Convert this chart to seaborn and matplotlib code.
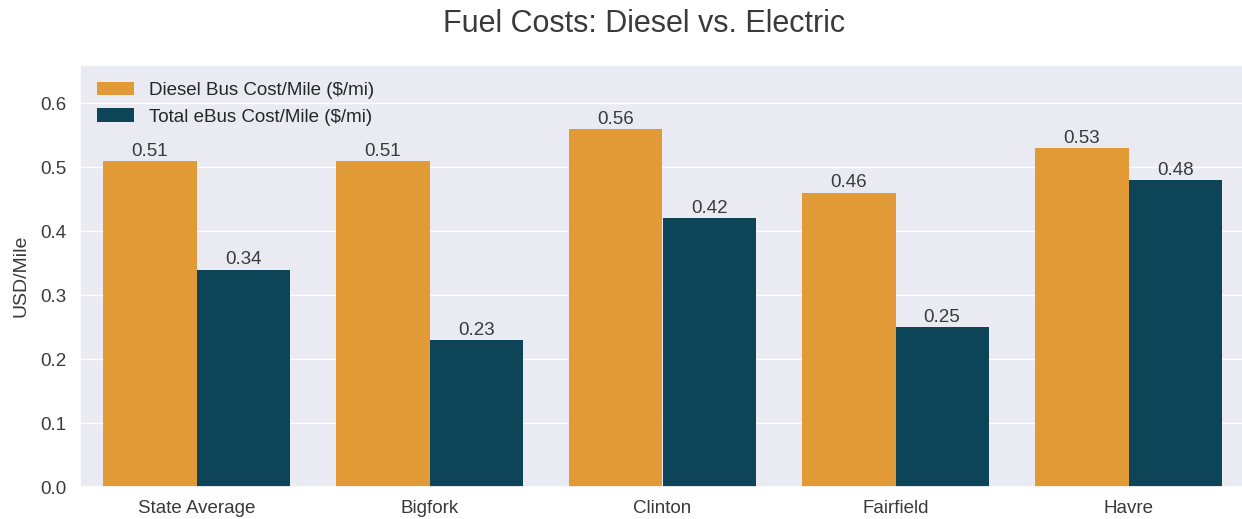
import matplotlib
matplotlib.use("Agg")
import matplotlib.pyplot as plt
import seaborn as sns
import pandas as pd

sites = ["State Average", "Bigfork", "Clinton", "Fairfield", "Havre"]
diesel_cost = [0.51, 0.51, 0.56, 0.46, 0.53]
ebus_cost = [0.34, 0.23, 0.42, 0.25, 0.48]
series_names = ["Diesel Bus Cost/Mile ($/mi)", "Total eBus Cost/Mile ($/mi)"]

sns.set_theme(style="darkgrid")
plt.rcParams["font.family"] = ["Liberation Sans", "DejaVu Sans"]

df = pd.DataFrame({
    "Site": sites * 2,
    "Cost": diesel_cost + ebus_cost,
    "Series": [series_names[0]] * len(sites) + [series_names[1]] * len(sites),
})

W, H = 1242, 519
fig = plt.figure(figsize=(W / 100, H / 100), dpi=100)
ax = fig.add_axes([80 / W, 32 / H, 1165 / W, 422 / H])

sns.barplot(data=df, x="Site", y="Cost", hue="Series",
            palette=["#E29A36", "#0D4457"], saturation=1, linewidth=0, ax=ax)

text_color = "#3a3a3a"
for cont in ax.containers:
    ax.bar_label(cont, fmt="%.2f", fontsize=13.5, color=text_color, padding=1)

ax.set_ylim(0, 0.66)
ax.set_xlabel("")
ax.set_ylabel("USD/Mile", fontsize=14, color=text_color, labelpad=8)
ax.tick_params(axis="both", labelsize=13.5, colors=text_color)
ax.legend(loc="upper left", frameon=False, fontsize=13.5, title=None)

fig.text(644 / W, 1 - 32 / H, "Fuel Costs: Diesel vs. Electric",
         fontsize=22, color=text_color, ha="center", va="baseline")

fig.savefig("out.png", dpi=100)
